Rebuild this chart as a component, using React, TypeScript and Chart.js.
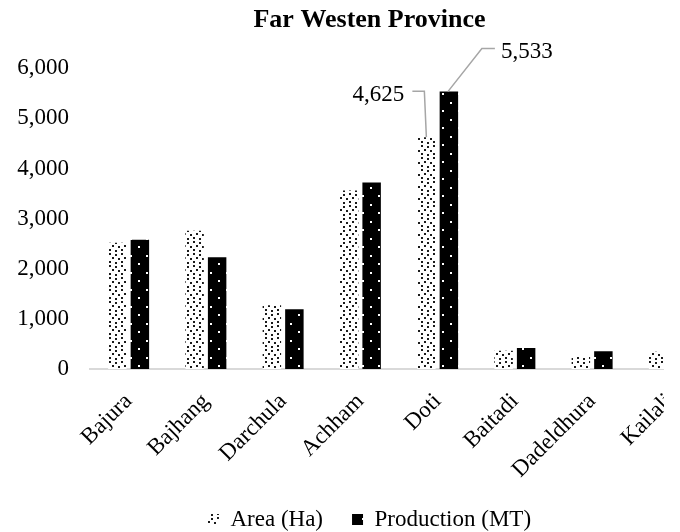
import React, { useEffect, useRef } from "react";
import { Chart, registerables } from "chart.js";

Chart.register(...registerables);

const categories = ["Bajura", "Bajhang", "Darchula", "Achham", "Doti", "Baitadi", "Dadeldhura", "Kailali"];
const areaHa = [2520, 2760, 1270, 3560, 4625, 365, 245, 345];
const productionMT = [2580, 2230, 1190, 3720, 5533, 418, 353, 0];
const seriesNames = ["Area (Ha)", "Production (MT)"];
const yTicks = [0, 1000, 2000, 3000, 4000, 5000, 6000];
const chartTitle = "Far Westen Province";
const calloutIndex = 4;

const FONT = "'Liberation Serif', 'Times New Roman', serif";

function makeAreaPattern(): CanvasPattern | string {
  const c = document.createElement("canvas");
  c.width = 12;
  c.height = 12;
  const g = c.getContext("2d");
  if (!g) return "#fff";
  g.fillStyle = "#ffffff";
  g.fillRect(0, 0, 12, 12);
  g.fillStyle = "#1a1a1a";
  const dots = [[1, 1], [7, 2], [4, 5], [10, 6], [1, 9], [7, 10]];
  dots.forEach(([x, y]) => g.fillRect(x, y, 2, 2));
  return g.createPattern(c, "repeat") || "#fff";
}

function makeProdPattern(): CanvasPattern | string {
  const c = document.createElement("canvas");
  c.width = 16;
  c.height = 17;
  const g = c.getContext("2d");
  if (!g) return "#000";
  g.fillStyle = "#000000";
  g.fillRect(0, 0, 16, 17);
  g.fillStyle = "#ffffff";
  g.fillRect(10, 8, 2, 2);
  g.fillRect(2, 0, 2, 2);
  return g.createPattern(c, "repeat") || "#000";
}

const fmt = (v: number) => v.toLocaleString("en-US");

const calloutPlugin = {
  id: "callouts",
  afterDatasetsDraw(chart: any) {
    const ctx = chart.ctx;
    const a = chart.getDatasetMeta(0).data[calloutIndex];
    const p = chart.getDatasetMeta(1).data[calloutIndex];
    ctx.save();
    ctx.strokeStyle = "#a6a6a6";
    ctx.lineWidth = 1.5;
    ctx.beginPath();
    ctx.moveTo(a.x - 14, a.y - 46);
    ctx.lineTo(a.x - 2, a.y - 46);
    ctx.lineTo(a.x, a.y);
    ctx.stroke();
    ctx.beginPath();
    ctx.moveTo(p.x + 46, p.y - 43);
    ctx.lineTo(p.x + 33, p.y - 43);
    ctx.lineTo(p.x - 1, p.y);
    ctx.stroke();
    ctx.fillStyle = "#000";
    ctx.font = `23px ${FONT}`;
    ctx.textBaseline = "middle";
    ctx.textAlign = "right";
    ctx.fillText(fmt(areaHa[calloutIndex]), a.x - 22, a.y - 42);
    ctx.textAlign = "left";
    ctx.fillText(fmt(productionMT[calloutIndex]), p.x + 52, p.y - 40);
    ctx.restore();
  },
};

export default function App() {
  const ref = useRef<HTMLCanvasElement>(null);
  useEffect(() => {
    document.body.style.margin = "0";
    if (!ref.current) return;
    const chart = new Chart(ref.current, {
      type: "bar",
      data: {
        labels: categories,
        datasets: [
          {
            label: seriesNames[0],
            data: areaHa,
            backgroundColor: makeAreaPattern() as any,
            borderWidth: 0,
            categoryPercentage: 0.583,
            barPercentage: 0.82,
          },
          {
            label: seriesNames[1],
            data: productionMT,
            backgroundColor: makeProdPattern() as any,
            borderWidth: 0,
            categoryPercentage: 0.583,
            barPercentage: 0.82,
          },
        ],
      },
      options: {
        responsive: false,
        animation: false,
        layout: { padding: 0 },
        plugins: {
          title: {
            display: true,
            text: chartTitle,
            color: "#000",
            font: { family: FONT, size: 26, weight: "bold" },
            padding: { top: 5, bottom: 32 },
          },
          legend: {
            position: "bottom",
            labels: {
              color: "#000",
              font: { family: FONT, size: 23 },
              boxWidth: 11,
              boxHeight: 11,
              padding: 29,
            },
          },
          tooltip: { enabled: false },
        },
        scales: {
          x: {
            grid: { display: false, drawTicks: false },
            border: { display: true, color: "#d9d9d9", width: 2 },
            ticks: {
              color: "#000",
              font: { family: FONT, size: 23 },
              minRotation: 45,
              maxRotation: 45,
              padding: 19,
              autoSkip: false,
            },
            afterFit: (scale: any) => {
              scale.height = 110;
            },
          },
          y: {
            min: 0,
            max: 6000,
            grid: { display: false, drawTicks: false },
            border: { display: false },
            afterBuildTicks: (scale: any) => {
              scale.ticks = yTicks.map((v) => ({ value: v }));
            },
            ticks: {
              color: "#000",
              font: { family: FONT, size: 23 },
              padding: 21,
              callback: (v: any) => fmt(Number(v)),
            },
            afterFit: (scale: any) => {
              scale.width = 90;
            },
          },
          yRightSpace: {
            type: "linear",
            position: "right",
            display: true,
            min: 0,
            max: 6000,
            grid: { display: false, drawTicks: false },
            border: { display: false },
            ticks: { display: false },
            afterFit: (scale: any) => {
              scale.width = 31;
            },
          },
        },
      },
      plugins: [calloutPlugin],
    });
    return () => chart.destroy();
  }, []);
  return (
    <div style={{ width: 664, height: 532, overflow: "hidden", position: "relative", background: "#fff" }}>
      <canvas ref={ref} width={739} height={541} style={{ display: "block" }} />
    </div>
  );
}
